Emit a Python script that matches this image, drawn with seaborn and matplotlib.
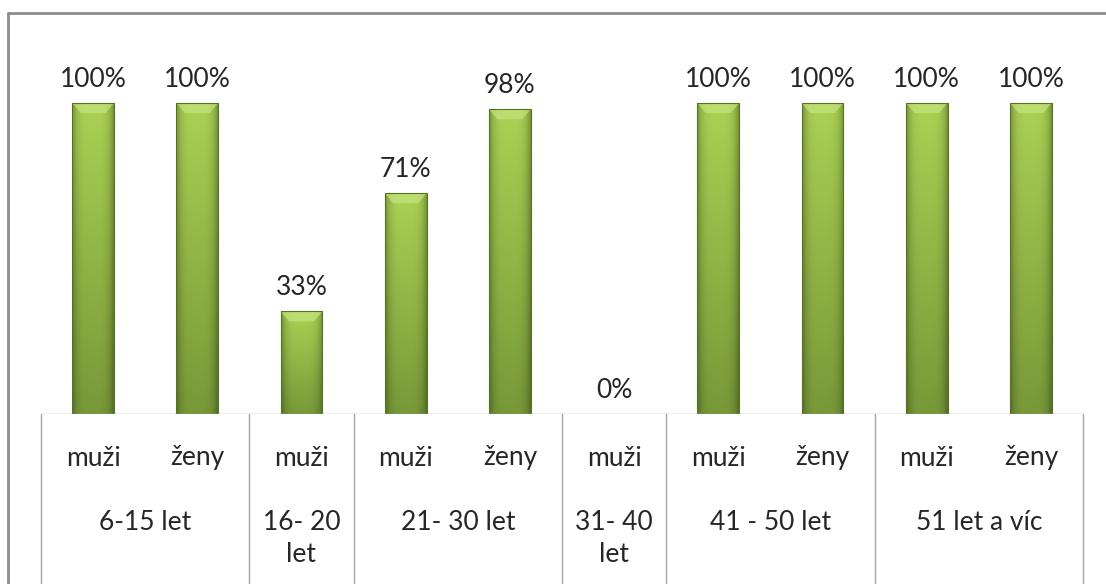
import numpy as np
import pandas as pd
import matplotlib
matplotlib.use("Agg")
import matplotlib.pyplot as plt
import matplotlib.transforms as mtransforms
from matplotlib.lines import Line2D
import seaborn as sns

# data
groups = ["6-15 let", "16- 20 let", "21- 30 let", "31- 40 let", "41 - 50 let", "51 let a víc"]
sexes = ["muži", "ženy", "muži", "muži", "ženy", "muži", "muži", "ženy", "muži", "ženy"]
group_idx = [0, 0, 1, 2, 2, 3, 4, 4, 5, 5]
values = [100, 100, 33, 71, 98, 0, 100, 100, 100, 100]

sns.set_theme(style="white")
plt.rcParams['font.family'] = ['Lato', 'DejaVu Sans']

W, H = 1106, 584
fs = 19
txt_c = "#262626"
fig = plt.figure(figsize=(W / 100, H / 100), dpi=100)
ax_left, ax_right, ax_base, ax_top = 41, 1083, 414, 13
ax = fig.add_axes([ax_left / W, 1 - ax_base / H, (ax_right - ax_left) / W, (ax_base - ax_top) / H])

df = pd.DataFrame({"slot": range(len(values)), "value": values})
sns.barplot(data=df, x="slot", y="value", width=0.4, color="#9bbb59",
            edgecolor="#55731f", linewidth=0.8, ax=ax, zorder=2)

ymax = 100 * (ax_base - ax_top) / (ax_base - 103)
ax.set_xlim(-0.5, len(values) - 0.5)
ax.set_ylim(0, ymax)

# gradient fill clipped to each bar
ny, nx = 60, 30
t = np.linspace(0, 1, ny)[:, None]
u = np.linspace(0, 1, nx)[None, :]
light = np.array([0.67, 0.82, 0.33])
dark = np.array([0.47, 0.60, 0.22])
base = light[None, None, :] * (1 - t[..., None]) + dark[None, None, :] * t[..., None]
edge = 1 - 0.28 * np.abs(2 * u - 1) ** 4
img = np.clip(base * edge[..., None], 0, 1)
for p in list(ax.patches):
    x0, y0, w, h = p.get_x(), p.get_y(), p.get_width(), p.get_height()
    if h <= 0:
        p.set_visible(False)
        continue
    im = ax.imshow(img, extent=[x0, x0 + w, y0, y0 + h], aspect="auto", zorder=2.5,
                   interpolation="bilinear")
    im.set_clip_path(p)
    # light top bevel
    bev = ymax * 0.025
    ax.fill([x0, x0 + w, x0 + w * 0.8, x0 + w * 0.2], [y0 + h, y0 + h, y0 + h - bev, y0 + h - bev],
            color="#c6e37f", alpha=0.7, zorder=2.7, lw=0)
    p.set_facecolor("none")
    p.set_zorder(3)
ax.set_xlim(-0.5, len(values) - 0.5)
ax.set_ylim(0, ymax)

# value labels
for i, v in enumerate(values):
    ax.annotate(f"{v}%", (i, v), xytext=(0, 8), textcoords="offset points",
                ha="center", va="bottom", fontsize=fs, color=txt_c)

ax.set_xticks([])
ax.set_yticks([])
ax.set_xlabel("")
ax.set_ylabel("")
for s in ax.spines.values():
    s.set_visible(False)

# category table under the axis
line_c = "#a6a6a6"
ax.axhline(0, color=line_c, lw=1, zorder=4)
tr = mtransforms.blended_transform_factory(ax.transData, fig.transFigure)
bounds = [-0.5]
for g in range(len(groups)):
    slots = [i for i, gi in enumerate(group_idx) if gi == g]
    bounds.append(max(slots) + 0.5)
for b in bounds:
    fig.add_artist(Line2D([b, b], [0, 1 - ax_base / H], transform=tr, color=line_c, lw=1))

for i, s in enumerate(sexes):
    fig.text(i, 1 - 458 / H, s, transform=tr, ha="center", va="center", fontsize=fs, color=txt_c)

for g, name in enumerate(groups):
    slots = [i for i, gi in enumerate(group_idx) if gi == g]
    cx = (min(slots) + max(slots)) / 2
    if len(slots) == 1:
        head, tail = name.rsplit(" ", 1)
        fig.text(cx, 1 - 538 / H, head + "\n" + tail, transform=tr, ha="center", va="center",
                 fontsize=fs, color=txt_c, linespacing=1.35)
    else:
        fig.text(cx, 1 - 522 / H, name, transform=tr, ha="center", va="center",
                 fontsize=fs, color=txt_c)

# outer frame (left and top edges visible)
border_c = "#8c8c8c"
fig.add_artist(Line2D([8 / W, 8 / W], [0, 1 - 13 / H], transform=fig.transFigure, color=border_c, lw=2))
fig.add_artist(Line2D([8 / W, 1], [1 - 13 / H, 1 - 13 / H], transform=fig.transFigure, color=border_c, lw=2))

fig.savefig("out.png", dpi=100, facecolor="white")
